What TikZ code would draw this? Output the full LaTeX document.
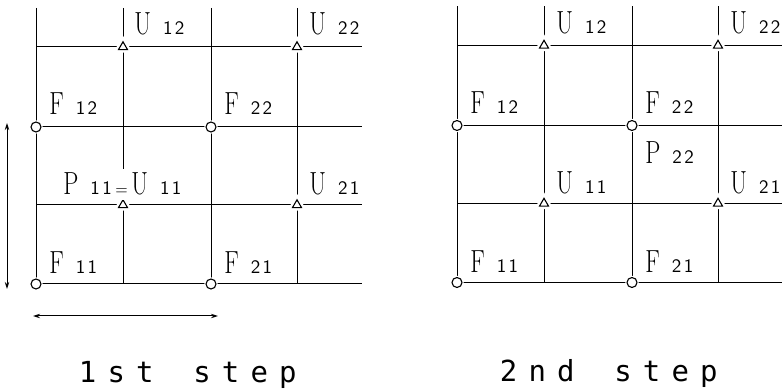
\documentclass[tikz,border=0pt]{standalone}
\usepackage{fontspec}
\usepackage{graphicx}
\usetikzlibrary{shapes.geometric,arrows.meta}
\newfontfamily\stepfont{DejaVu Sans Mono}
\newcommand{\lbl}[3]{\scalebox{0.75}[1]{\fontsize{16}{16}\selectfont #1}\hspace{6pt}{\sffamily\fontsize{9.5}{9.5}\selectfont #2\hspace{1.2pt}#3}}
\newcommand{\eqs}{{\sffamily\fontsize{7.5}{7.5}\selectfont =}}
\newcommand{\pch}[1]{\makebox[14.3pt][c]{#1}}
\newcommand{\gridpanel}{%
  \coordinate (pF11) at (36,284);
  \coordinate (pF21) at (211,284);
  \coordinate (pF12) at (36,127);
  \coordinate (pF22) at (211,127);
  \coordinate (pU11) at (123,205);
  \coordinate (pU21) at (297,205);
  \coordinate (pU12) at (123,47);
  \coordinate (pU22) at (297,47);
  \coordinate (t0) at (36,8);
  \coordinate (t1) at (123,8);
  \coordinate (t2) at (211,8);
  \coordinate (t3) at (297,8);
  \coordinate (l2) at (36,47);
  \coordinate (l1) at (36,205);
  \coordinate (b1) at (123,284);
  \coordinate (b3) at (297,284);
  \coordinate (eU2) at (362,47);
  \coordinate (eF2) at (362,127);
  \coordinate (eU1) at (362,205);
  \coordinate (eF1) at (362,284);
  \draw[gridline] (t0) -- (pF11);
  \draw[gridline] (t1) -- (b1);
  \draw[gridline] (t2) -- (pF21);
  \draw[gridline] (t3) -- (b3);
  \draw[gridline] (l2) -- (eU2);
  \draw[gridline] (pF12) -- (eF2);
  \draw[gridline] (l1) -- (eU1);
  \draw[gridline] (pF11) -- (eF1);
  \node[fpt] (F11) at (pF11) {};
  \node[fpt] (F21) at (pF21) {};
  \node[fpt] (F12) at (pF12) {};
  \node[fpt] (F22) at (pF22) {};
  \node[upt] (U11) at (pU11) {};
  \node[upt] (U21) at (pU21) {};
  \node[upt] (U12) at (pU12) {};
  \node[upt] (U22) at (pU22) {};
}
\begin{document}
\begin{tikzpicture}[x=0.5pt,y=-0.5pt,
  gridline/.style={line width=0.5pt},
  fpt/.style={circle,draw,fill=white,inner sep=0pt,minimum size=5pt,line width=0.55pt,
    preaction={draw=white,line width=1.6pt}},
  upt/.style={regular polygon,regular polygon sides=3,draw,fill=white,inner sep=0pt,
    minimum size=5.2pt,line width=0.55pt,preaction={draw=white,line width=3pt}},
  lab/.style={anchor=base west,inner sep=0pt},
  steplab/.style={anchor=base west,inner sep=0pt,font=\stepfont\fontsize{14.5}{14.5}\selectfont},
  dim/.style={line width=0.5pt,{Stealth[length=3.5pt,width=2.2pt]}-{Stealth[length=3.5pt,width=2.2pt]}}]
\useasboundingbox (0,0) rectangle (782,389);
% ---- 1st step panel
\begin{scope}[name prefix=L-]
  \gridpanel
  \node[lab] (lU12) at (134,35) {\lbl{U}{1}{2}};
  \node[lab] (lU22) at (309,35) {\lbl{U}{2}{2}};
  \node[lab] (lF12) at (49,115) {\lbl{F}{1}{2}};
  \node[lab] (lF22) at (224,115) {\lbl{F}{2}{2}};
  \node[lab,fill=white,inner ysep=2pt] (lP11) at (63,195) {\lbl{P}{1}{1}\hspace{1.8pt}\eqs\hspace{1.8pt}\lbl{U}{1}{1}};
  \node[lab] (lU21) at (309,195) {\lbl{U}{2}{1}};
  \node[lab] (lF11) at (49,274) {\lbl{F}{1}{1}};
  \node[lab] (lF21) at (224,274) {\lbl{F}{2}{1}};
  \coordinate (va) at (7,123);
  \coordinate (vb) at (7,289);
  \coordinate (ha) at (33,316);
  \coordinate (hb) at (218,316);
  \draw[dim] (va) -- (vb);
  \draw[dim] (ha) -- (hb);
\end{scope}
% ---- 2nd step panel
\begin{scope}[name prefix=R-,shift={(421,-1.5)}]
  \gridpanel
  \node[lab] (lU12) at (135,35) {\lbl{U}{1}{2}};
  \node[lab] (lU22) at (309,35) {\lbl{U}{2}{2}};
  \node[lab] (lF12) at (49,115) {\lbl{F}{1}{2}};
  \node[lab] (lF22) at (224,115) {\lbl{F}{2}{2}};
  \node[lab] (lP22) at (224,165) {\lbl{P}{2}{2}};
  \node[lab] (lU11) at (135,195) {\lbl{U}{1}{1}};
  \node[lab] (lU21) at (309,195) {\lbl{U}{2}{1}};
  \node[lab] (lF11) at (49,274) {\lbl{F}{1}{1}};
  \node[lab] (lF21) at (224,274) {\lbl{F}{2}{1}};
\end{scope}
\node[steplab] (step1) at (73,383) {\pch{1}\pch{s}\pch{t}\pch{ }\pch{s}\pch{t}\pch{e}\pch{p}};
\node[steplab] (step2) at (494,382) {\pch{2}\pch{n}\pch{d}\pch{ }\pch{s}\pch{t}\pch{e}\pch{p}};
\end{tikzpicture}
\end{document}
